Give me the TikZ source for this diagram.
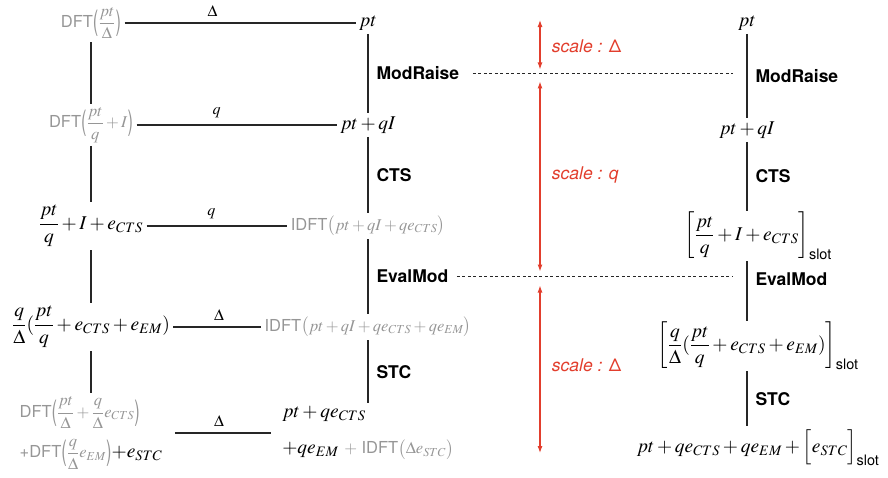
\documentclass[tikz,border=0pt]{standalone}
\usepackage{amsmath}
\usepackage{mathtools}
\usepackage{mathptmx}
\usepackage[no-math]{fontspec}
\setmainfont{TeX Gyre Heros}
\usepackage{graphicx}
\usepackage{tikz}
\usetikzlibrary{positioning}
\usetikzlibrary{arrows.meta}
\usepackage{xcolor}

\definecolor{txtgray}{RGB}{150,150,150}
\definecolor{redline}{RGB}{226,62,45}

\newcommand{\mathsz}{\fontsize{19.5}{23}\selectfont}
\newcommand{\graysz}{\fontsize{16.5}{20}\selectfont}
\newcommand{\opsz}{\fontsize{17.5}{21}\selectfont}
\newcommand{\wtsz}{\fontsize{16}{19}\selectfont}
% tall thin parentheses around the fractions
\newcommand{\lpar}{\mathopen{\vcenter{\hbox{\scalebox{1}[1.7]{(}}}}}
\newcommand{\rpar}{\mathclose{\vcenter{\hbox{\scalebox{1}[1.7]{)}}}}}

\begin{document}
\begin{tikzpicture}[x=1pt, y=-1pt, on grid,
    blk/.style={font=\mathsz},
    gry/.style={font=\graysz, text=txtgray},
    op/.style={font=\opsz\bfseries, anchor=west, xshift=5pt, inner sep=3pt},
    wt/.style={font=\wtsz, anchor=south, yshift=3pt},
    link/.style={draw=black!85, line width=1.1pt},
    sepline/.style={draw=black!85, line width=1.1pt, dash pattern=on 3pt off 2.5pt, shorten >=19pt},
    scl/.style={draw=redline, line width=1.1pt, {Latex[length=7pt,width=5pt]}-{Latex[length=7pt,width=5pt]}},
    sclbl/.style={anchor=west, xshift=8pt, text=redline, font=\opsz\itshape}]

        \useasboundingbox (0,0) rectangle (888,477);

        % middle column
        \node[blk] (pt) at (368,23) {$pt$};
        \node[blk] (ptqI) [below=102pt of pt] {$pt+qI$};
        \node[gry] (idftA) [below=101pt of ptqI] {IDFT$\bigl(pt+qI+qe_{CTS}\bigr)$};
        \node[gry] (idftB) [below=101pt of idftA] {IDFT$\bigl(pt+qI+qe_{CTS}+qe_{EM}\bigr)$};
        \node[blk, align=left] (outC) [below=106pt of idftB] {$pt+qe_{CTS}$\\[13pt]
          $+qe_{EM}$ {\graysz\color{txtgray}$+$ IDFT$\bigl(\Delta e_{STC}\bigr)$}};

        % left column
        \node[gry] (dftA) [left=277pt of pt] {DFT$\lpar\dfrac{pt}{\Delta}\rpar$};
        \node[gry] (dftB) [left=277pt of ptqI] {DFT$\lpar\dfrac{pt}{q}+I\rpar$};
        \node[blk] (ctsL) [left=277pt of idftA] {$\dfrac{pt}{q}+I+e_{CTS}$};
        \node[blk] (emL) [left=277pt of idftB] {$\dfrac{q}{\Delta}(\dfrac{pt}{q}+e_{CTS}+e_{EM})$};
        \node[gry, align=left] (outL) [left=277pt of outC] {DFT$\lpar\dfrac{pt}{\Delta}+\dfrac{q}{\Delta}e_{CTS}\rpar$\\[10pt]
          +DFT$\lpar\dfrac{q}{\Delta}e_{EM}\rpar${\mathsz\color{black}$+e_{STC}$}};

        % right column
        \node[blk] (ptR) [right=379pt of pt] {$pt$};
        \node[blk] (ptqIR) [below=107pt of ptR] {$pt+qI$};
        \node[blk, inner sep=1pt] (slotA) [below=106pt of ptqIR] {$\biggl[\dfrac{pt}{q}+I+e_{CTS}\biggr]_{\mathrlap{\text{slot}}}$};
        \node[blk, inner sep=1pt] (slotB) [below=110pt of slotA] {$\biggl[\dfrac{q}{\Delta}(\dfrac{pt}{q}+e_{CTS}+e_{EM})\biggr]_{\mathrlap{\text{slot}}}$};
        \node[blk] (outR) [below=102pt of slotB] {$pt+qe_{CTS}+qe_{EM}+\Bigl[e_{STC}\Bigr]_{\mathrlap{\text{slot}}}$};

        \path [link]
          (pt) edge node[op] (modC) {ModRaise} (ptqI)
          (ptqI) edge node[op] {CTS} (idftA)
          (idftA) edge node[op] (evC) {EvalMod} (idftB)
          (idftB) edge node[op] {STC} (outC)

          (dftA) edge (dftB)
          (dftB) edge (ctsL)
          (ctsL) edge (emL)
          (emL) edge (outL)

          (dftA) edge node[wt, pos=.38] {$\Delta$} (pt)
          (dftB) edge node[wt, pos=.40] {$q$} (ptqI)
          (ctsL) edge node[wt, pos=.46] {$q$} (idftA)
          (emL) edge node[wt, pos=.52] {$\Delta$} (idftB)
          (outL) edge [shorten <=9pt, shorten >=8pt] node[wt, pos=.47] {$\Delta$} (outC)

          (ptR) edge node[op] (modR) {ModRaise} (ptqIR)
          (ptqIR) edge node[op] {CTS} (slotA)
          (slotA) edge node[op, pos=.3] (evR) {EvalMod} (slotB)
          (slotB) edge node[op] {STC} (outR);

        \draw[sepline, shorten <=10pt] (modC.east) -- (modC.east -| modR.west);
        \draw[sepline, shorten <=5pt] (evC.east) -- (evC.east -| evR.west);

        % scale ranges
        \coordinate (sTop) at (540,20);
        \coordinate (sMod) at (sTop |- modC);
        \coordinate (sEval) at (sTop |- evC);
        \coordinate (sBot) at (540,453);

        \draw[scl, shorten >=4pt] (sTop) -- node[sclbl] {scale : {\upshape Δ}} (sMod);
        \draw[scl, shorten <=8pt, shorten >=5pt] (sMod) -- node[sclbl] {scale : q} (sEval);
        \draw[scl, shorten <=9pt] (sEval) -- node[sclbl] {scale : {\upshape Δ}} (sBot);

      \end{tikzpicture}
\end{document}
